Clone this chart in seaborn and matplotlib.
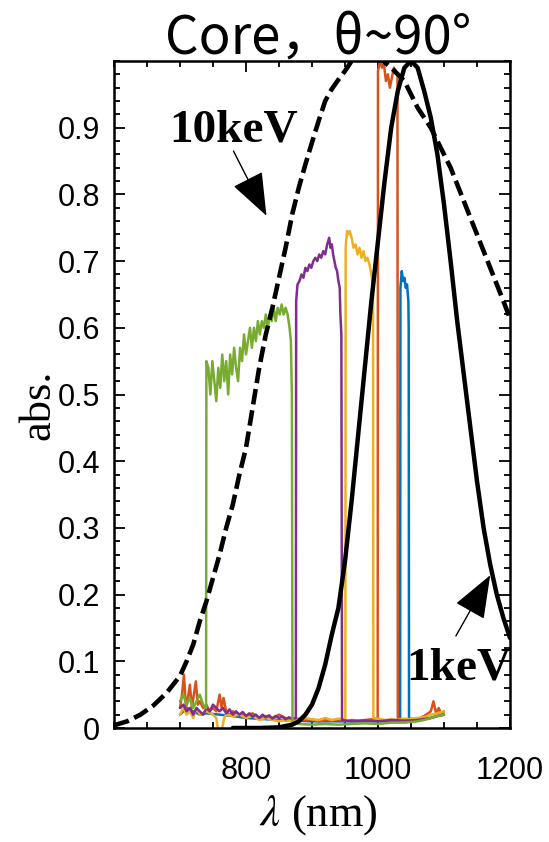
import numpy as np
import pandas as pd
import matplotlib
matplotlib.use("Agg")
import matplotlib.pyplot as plt
import seaborn as sns
from matplotlib.ticker import MultipleLocator, FixedLocator

# ---------------- data ----------------
title_text = "Core，θ~90°"
x_label = "$\\lambda$ (nm)"
y_label = "abs."
x_ticks = [800, 1000, 1200]
y_ticks = [0, 0.1, 0.2, 0.3, 0.4, 0.5, 0.6, 0.7, 0.8, 0.9]
y_tick_labels = ["0", "0.1", "0.2", "0.3", "0.4", "0.5", "0.6", "0.7", "0.8", "0.9"]

# simulated 10 keV curve (dashed)
kev10_x = [600, 620, 640, 660, 680, 700, 710, 720, 730, 740, 750, 760, 770, 780, 790,
           800, 810, 820, 830, 840, 850, 860, 870, 880, 890, 900, 910, 920, 930, 940,
           950, 960, 970, 980, 990, 1000, 1010, 1020, 1030, 1040, 1050, 1060, 1070,
           1080, 1090, 1100, 1110, 1120, 1130, 1140, 1150, 1160, 1170, 1180, 1190, 1200]
kev10_y = [0.004, 0.01, 0.02, 0.034, 0.053, 0.078, 0.1, 0.125, 0.16, 0.19, 0.225, 0.26,
           0.3, 0.335, 0.38, 0.42, 0.48, 0.54, 0.59, 0.63, 0.675, 0.72, 0.77, 0.81, 0.845,
           0.878, 0.91, 0.94, 0.958, 0.972, 0.985, 1.0, 1.008, 1.012, 1.012, 1.008, 0.998,
           0.99, 0.98, 0.97, 0.95, 0.93, 0.915, 0.9, 0.88, 0.86, 0.84, 0.815, 0.79, 0.765,
           0.74, 0.715, 0.69, 0.665, 0.64, 0.614]

# simulated 1 keV curve (solid)
kev1_x = [780, 820, 850, 870, 880, 890, 900, 910, 920, 930, 940, 950, 960, 970, 980, 990,
          1000, 1010, 1020, 1030, 1040, 1050, 1060, 1070, 1080, 1090, 1100, 1110, 1120,
          1130, 1140, 1150, 1160, 1170, 1180, 1190, 1200]
kev1_y = [0.0, 0.0, 0.001, 0.005, 0.01, 0.02, 0.035, 0.06, 0.095, 0.14, 0.18, 0.25, 0.34,
          0.44, 0.54, 0.64, 0.73, 0.82, 0.9, 0.955, 0.99, 1.0, 0.99, 0.955, 0.915, 0.86,
          0.785, 0.70, 0.61, 0.53, 0.45, 0.37, 0.3, 0.245, 0.2, 0.165, 0.135]

# measured spectra
blue_x = [700, 710, 720, 730, 740, 760, 780, 800, 850, 900, 950, 1000, 1033.5,
          1034, 1036, 1038, 1040, 1042, 1044, 1046, 1046.5,
          1047, 1060, 1070, 1080, 1090, 1100]
blue_y = [0.02, 0.03, 0.025, 0.02, 0.022, 0.02, 0.018, 0.015, 0.012, 0.01, 0.01, 0.01, 0.01,
          0.66, 0.685, 0.67, 0.675, 0.66, 0.665, 0.64, 0.6,
          0.012, 0.012, 0.014, 0.015, 0.018, 0.02]

orange_x = [700, 703, 706, 709, 712, 715, 718, 721, 724, 727, 730, 735, 740, 745, 750, 755,
            760, 763, 766, 770, 775, 780, 790, 800, 810, 820, 830, 840, 850, 860, 870, 880,
            890, 900, 910, 920, 930, 940, 950, 960, 970, 980, 990, 999.5,
            1000, 1003, 1006, 1009, 1012, 1015, 1018, 1021, 1024, 1027, 1029.5,
            1030, 1040, 1050, 1060, 1070, 1080, 1084, 1088, 1092, 1096, 1100]
orange_y = [0.03, 0.05, 0.08, 0.03, 0.045, 0.065, 0.03, 0.05, 0.07, 0.035, 0.04, 0.03, 0.035,
            0.025, 0.03, 0.025, 0.05, 0.03, 0.045, 0.025, 0.02, 0.025, 0.02, 0.018, 0.022,
            0.015, 0.018, 0.015, 0.02, 0.015, 0.012, 0.014, 0.012, 0.013, 0.01, 0.012, 0.011,
            0.013, 0.01, 0.012, 0.011, 0.012, 0.013, 0.015,
            0.985, 1.0, 0.99, 0.995, 0.97, 0.98, 0.96, 0.975, 0.99, 0.985, 0.98,
            0.015, 0.012, 0.014, 0.013, 0.018, 0.025, 0.04, 0.022, 0.03, 0.02, 0.025]

yellow_x = [700, 705, 710, 715, 720, 725, 730, 740, 750, 755, 758, 761, 764, 767, 770, 780,
            790, 800, 810, 820, 830, 840, 850, 860, 870, 880, 890, 900, 910, 920, 930, 940,
            950.5,
            951, 953, 955, 957, 960, 963, 966, 969, 972, 975, 978, 981, 984, 987, 990, 992.5,
            993, 1000, 1010, 1020, 1030, 1040, 1050, 1060, 1070, 1080, 1090, 1100]
yellow_y = [0.02, 0.03, 0.02, 0.025, 0.015, 0.03, 0.02, 0.025, 0.02, 0.015, -0.005, -0.012,
            0.0, 0.015, 0.02, 0.018, 0.02, 0.015, 0.018, 0.012, 0.015, 0.012, 0.01, 0.012,
            0.01, 0.012, 0.015, 0.013, 0.012, 0.015, 0.012, 0.014, 0.013,
            0.72, 0.745, 0.74, 0.745, 0.735, 0.72, 0.725, 0.71, 0.72, 0.705, 0.715, 0.7,
            0.705, 0.695, 0.68, 0.66,
            0.015, 0.014, 0.012, 0.013, 0.012, 0.014, 0.013, 0.015, 0.016, 0.02, 0.022, 0.025]

purple_x = [700, 705, 710, 715, 720, 725, 730, 735, 740, 745, 750, 755, 760, 765, 770, 775,
            780, 785, 790, 795, 800, 805, 810, 815, 820, 825, 830, 835, 840, 845, 850, 855,
            860, 865, 870, 875.5,
            876, 878, 881, 884, 887, 890, 893, 896, 899, 902, 905, 908, 911, 914, 917, 920,
            923, 926, 928, 930, 932, 934, 936, 938, 940, 942, 943, 944, 944.5,
            945.5, 960, 980, 1000, 1020, 1040, 1060, 1080, 1090, 1100]
purple_y = [0.03, 0.035, 0.025, 0.03, 0.02, 0.03, 0.025, 0.02, 0.03, 0.025, 0.035, 0.03,
            0.025, 0.03, 0.022, 0.028, 0.02, 0.025, 0.02, 0.024, 0.018, 0.022, 0.017, 0.02,
            0.015, 0.02, 0.016, 0.019, 0.014, 0.018, 0.015, 0.017, 0.013, 0.016, 0.014, 0.015,
            0.64, 0.665, 0.67, 0.68, 0.675, 0.69, 0.685, 0.695, 0.69, 0.7, 0.705, 0.7, 0.71,
            0.705, 0.715, 0.71, 0.725, 0.735, 0.72, 0.725, 0.71, 0.7, 0.69, 0.685, 0.67, 0.66,
            0.62, 0.6, 0.59,
            0.012, 0.01, 0.011, 0.01, 0.012, 0.011, 0.012, 0.015, 0.018, 0.02]

green_x = [700, 705, 710, 715, 720, 725, 730, 735, 739.5,
           740, 743, 746, 749, 752, 755, 758, 761, 764, 767, 770, 773, 776, 779, 782, 785,
           788, 791, 794, 797, 800, 803, 806, 809, 812, 815, 818, 821, 824, 827, 830, 833,
           836, 839, 842, 845, 848, 851, 854, 857, 860, 863, 866, 868, 869.5,
           870.5, 880, 900, 920, 940, 960, 980, 1000, 1020, 1040, 1060, 1070, 1080, 1090, 1100]
green_y = [0.04, 0.05, 0.035, 0.045, 0.03, 0.04, 0.05, 0.035, 0.03,
           0.55, 0.54, 0.5, 0.55, 0.52, 0.49, 0.54, 0.51, 0.56, 0.52, 0.55, 0.5, 0.56, 0.53,
           0.57, 0.54, 0.52, 0.57, 0.55, 0.59, 0.56, 0.58, 0.6, 0.57, 0.6, 0.58, 0.61, 0.59,
           0.61, 0.6, 0.62, 0.6, 0.62, 0.61, 0.63, 0.61, 0.63, 0.62, 0.635, 0.62, 0.63, 0.62,
           0.6, 0.58, 0.5,
           0.008, 0.006, 0.005, 0.006, 0.005, 0.006, 0.007, 0.006, 0.008, 0.008, 0.01, 0.012,
           0.015, 0.018, 0.02]

spectra = [("blue", blue_x, blue_y, "#0072BD"),
           ("orange", orange_x, orange_y, "#D95319"),
           ("yellow", yellow_x, yellow_y, "#EDB120"),
           ("purple", purple_x, purple_y, "#7E2F8E"),
           ("green", green_x, green_y, "#77AC30")]

# ---------------- style ----------------
sns.set_theme(style="ticks")
plt.rcParams["font.family"] = ["Liberation Sans", "DejaVu Sans"]
plt.rcParams["mathtext.fontset"] = "stix"
plt.rcParams["axes.linewidth"] = 1.8
for k in ["text.color", "axes.labelcolor", "xtick.color", "ytick.color",
          "xtick.labelcolor", "ytick.labelcolor", "axes.edgecolor"]:
    plt.rcParams[k] = "black"

fig = plt.figure(figsize=(5.49, 8.42), dpi=100)
L, R, B, T = 114, 510, 728, 61
W, H = 549, 842
ax = fig.add_axes([L / W, (H - B) / H, (R - L) / W, (B - T) / H])

for name, xs, ys, col in spectra:
    df = pd.DataFrame({"x": xs, "y": ys})
    sns.lineplot(data=df, x="x", y="y", ax=ax, color=col, lw=1.8,
                 estimator=None, sort=False, zorder=2)

df10 = pd.DataFrame({"x": kev10_x, "y": kev10_y})
sns.lineplot(data=df10, x="x", y="y", ax=ax, color="black", lw=3.3,
             estimator=None, sort=False, zorder=4)
ax.lines[-1].set_linestyle((0, (3.4, 1.3)))

df1 = pd.DataFrame({"x": kev1_x, "y": kev1_y})
sns.lineplot(data=df1, x="x", y="y", ax=ax, color="black", lw=3.2,
             estimator=None, sort=False, zorder=4)

ax.set_xlim(600, 1200)
ax.set_ylim(0, 1.0)
ax.xaxis.set_major_locator(FixedLocator(x_ticks))
ax.xaxis.set_minor_locator(MultipleLocator(50))
ax.set_yticks(y_ticks)
ax.set_yticklabels(y_tick_labels)
ax.yaxis.set_minor_locator(MultipleLocator(0.02))

ax.tick_params(which="both", direction="in", top=True, right=True, colors="black",
               width=1.3)
ax.tick_params(which="major", length=8)
ax.tick_params(which="minor", length=4.5)
ax.tick_params(axis="x", which="major", labelsize=22, pad=20)
ax.tick_params(axis="y", which="major", labelsize=22, pad=10)
for s in ax.spines.values():
    s.set_color("black")
    s.set_linewidth(1.8)

ax.set_xlabel(x_label, fontsize=32, family=["Liberation Serif"], va="top", color="black")
ax.xaxis.set_label_coords(0.515, -0.097)
ax.set_ylabel(y_label, fontsize=32, family=["Liberation Serif"], color="black")
ax.yaxis.set_label_coords(-0.14, 0.485)

# annotations
ax.text(781, 0.88, "10keV", fontsize=34, fontweight="bold", color="black",
        family=["Liberation Serif"], ha="center", va="baseline", zorder=6)
ax.annotate("", xy=(831, 0.768), xytext=(781, 0.865),
            arrowprops=dict(arrowstyle="-|>,head_length=1.1,head_width=0.42",
                            mutation_scale=25, lw=1.0, color="black",
                            shrinkA=0, shrinkB=0), zorder=6)
ax.text(1043, 0.072, "1keV", fontsize=34, fontweight="bold", color="black",
        family=["Liberation Serif"], ha="left", va="baseline", zorder=6)
ax.annotate("", xy=(1170, 0.229), xytext=(1118, 0.138),
            arrowprops=dict(arrowstyle="-|>,head_length=1.1,head_width=0.42",
                            mutation_scale=25, lw=1.0, color="black",
                            shrinkA=0, shrinkB=0), zorder=6)

fig.text(318 / W, 1 - 54 / H, title_text, fontsize=38, ha="center", va="baseline",
         color="black", family=["Noto Sans CJK SC", "DejaVu Sans"])

fig.savefig("out.png", dpi=100)
